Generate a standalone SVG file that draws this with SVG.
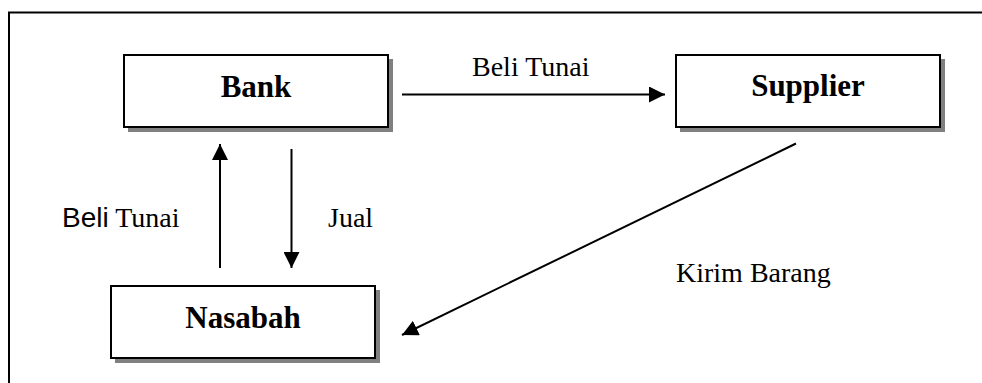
<svg xmlns="http://www.w3.org/2000/svg" width="982" height="383" viewBox="0 0 982 383">
<style>
.frame{fill:none;stroke:#000;stroke-width:2}
.shadow{fill:#808080}
.box{fill:#fff;stroke:#000;stroke-width:2}
.title{font-family:"Liberation Serif",serif;font-weight:bold;font-size:31px;text-anchor:middle;fill:#000}
.lbl{font-family:"Liberation Serif",serif;font-size:28px;fill:#000}
.sans{font-family:"Liberation Sans",sans-serif}
.edge{stroke:#000;stroke-width:2;fill:none}
</style>
<defs>
<marker id="ah" markerWidth="16" markerHeight="16" viewBox="0 0 16 16" refX="16" refY="8" orient="auto" markerUnits="userSpaceOnUse">
<path d="M0,0 L16,8 L0,16 Z" fill="#000"/>
</marker>
</defs>
<path class="frame" d="M9,383 V12.5 H982"/>
<g id="bank">
<rect class="shadow" x="128" y="59" width="265" height="73"/>
<rect class="box" x="124" y="55" width="264" height="72"/>
<text class="title" x="256" y="97">Bank</text>
</g>
<g id="supplier">
<rect class="shadow" x="680" y="59" width="265" height="73"/>
<rect class="box" x="676" y="55" width="264" height="72"/>
<text class="title" x="808" y="96">Supplier</text>
</g>
<g id="nasabah">
<rect class="shadow" x="115" y="290" width="265" height="73"/>
<rect class="box" x="111" y="286" width="264" height="72"/>
<text class="title" x="243" y="328">Nasabah</text>
</g>
<g id="connectors">
<line class="edge" x1="402" y1="94.5" x2="665" y2="94.5" marker-end="url(#ah)"/>
<line class="edge" x1="220" y1="268" x2="220" y2="144" marker-end="url(#ah)"/>
<line class="edge" x1="291.5" y1="149" x2="291.5" y2="268" marker-end="url(#ah)"/>
<line class="edge" x1="796" y1="143.5" x2="402" y2="335" marker-end="url(#ah)"/>
</g>
<g id="labels">
<text class="lbl" x="472" y="76">Beli Tunai</text>
<text class="lbl" x="62" y="227"><tspan class="sans">Beli</tspan> Tunai</text>
<text class="lbl" x="328" y="227">Jual</text>
<text class="lbl" x="676" y="282">Kirim Barang</text>
</g>
</svg>
